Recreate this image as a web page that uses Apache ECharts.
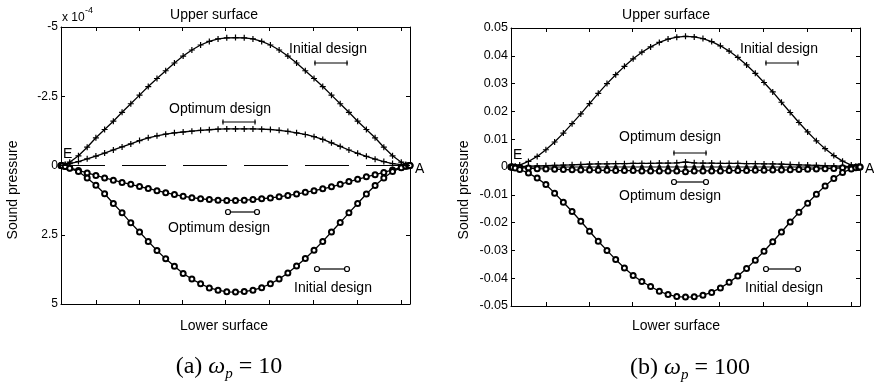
<!DOCTYPE html>
<html>
<head>
<meta charset="utf-8">
<script src="https://cdn.jsdelivr.net/npm/echarts@6/dist/echarts.min.js"></script>
<style>
  html, body { margin: 0; padding: 0; background: #fff; }
  #chart { width: 874px; height: 386px; }
</style>
</head>
<body>
<div id="chart"></div>
<script>
// chordwise positions of the surface nodes, E = 0, A = 1
const xPos = [0, 0.004, 0.012, 0.025, 0.05, 0.075, 0.1, 0.125, 0.15, 0.175, 0.2, 0.225, 0.25, 0.275, 0.3,
  0.325, 0.35, 0.375, 0.4, 0.425, 0.45, 0.475, 0.5, 0.525, 0.55, 0.575, 0.6, 0.625, 0.65, 0.675, 0.7,
  0.725, 0.75, 0.775, 0.8, 0.825, 0.85, 0.875, 0.9, 0.925, 0.95, 0.975, 0.988, 0.996, 1];

const xTickValues = [0.1, 0.223, 0.348, 0.472, 0.598, 0.722, 0.848, 0.974];

// (a) wp = 10, values in units of 1e-4
const leftUpperInitial = [0, -0.01, -0.04, -0.12, -0.35, -0.66, -1.0, -1.3, -1.6, -1.92, -2.23, -2.54, -2.85,
  -3.14, -3.42, -3.7, -3.95, -4.17, -4.35, -4.48, -4.57, -4.61, -4.62, -4.61, -4.57, -4.48, -4.35, -4.17,
  -3.95, -3.7, -3.42, -3.14, -2.85, -2.54, -2.23, -1.92, -1.6, -1.3, -1.0, -0.66, -0.35, -0.12, -0.04, -0.01, 0];
const leftUpperOptimum = [0, -0.01, -0.03, -0.07, -0.14, -0.24, -0.34, -0.45, -0.56, -0.67, -0.78, -0.9, -1.0,
  -1.07, -1.13, -1.18, -1.21, -1.24, -1.27, -1.29, -1.31, -1.32, -1.32, -1.32, -1.32, -1.31, -1.3, -1.27,
  -1.23, -1.18, -1.12, -1.04, -0.94, -0.82, -0.69, -0.56, -0.44, -0.33, -0.23, -0.14, -0.07, -0.03, -0.01, 0, 0];
const leftLowerOptimum = [0, 0.01, 0.04, 0.09, 0.18, 0.27, 0.36, 0.45, 0.53, 0.61, 0.68, 0.76, 0.83, 0.91,
  0.98, 1.05, 1.11, 1.16, 1.2, 1.23, 1.25, 1.26, 1.26, 1.25, 1.23, 1.2, 1.17, 1.13, 1.08, 1.03, 0.97, 0.91,
  0.84, 0.77, 0.68, 0.58, 0.5, 0.41, 0.33, 0.25, 0.16, 0.07, 0.03, 0.01, 0];
const leftLowerInitial = [0, 0.01, 0.04, 0.1, 0.22, 0.45, 0.71, 1.02, 1.37, 1.71, 2.07, 2.4, 2.74, 3.07, 3.37,
  3.64, 3.9, 4.1, 4.27, 4.42, 4.5, 4.56, 4.57, 4.55, 4.5, 4.41, 4.27, 4.1, 3.88, 3.63, 3.36, 3.06, 2.74, 2.4,
  2.06, 1.71, 1.37, 1.03, 0.72, 0.45, 0.22, 0.08, 0.03, 0.01, 0];

// (b) wp = 100
const rightUpperInitial = [0, 0.0001, 0.0003, 0.0007, 0.002, 0.0038, 0.0062, 0.009, 0.0122, 0.0156, 0.0191,
  0.0228, 0.0265, 0.03, 0.0332, 0.0362, 0.0389, 0.0413, 0.0432, 0.0448, 0.046, 0.0467, 0.047, 0.0468, 0.0462,
  0.0451, 0.0436, 0.0417, 0.0394, 0.0367, 0.0337, 0.0304, 0.027, 0.0233, 0.0196, 0.016, 0.0126, 0.0094,
  0.0066, 0.0041, 0.0021, 0.0007, 0.0002, 0.0001, 0];
const rightUpperOptimum = [0, 0, 0.0001, 0.0001, 0.0003, 0.0004, 0.0005, 0.0006, 0.0007, 0.0008, 0.0009,
  0.001, 0.0011, 0.0011, 0.0012, 0.0012, 0.0013, 0.0013, 0.0013, 0.0014, 0.0014, 0.0015, 0.0018, 0.0015,
  0.0014, 0.0014, 0.0013, 0.0013, 0.0013, 0.0012, 0.0012, 0.0011, 0.0011, 0.001, 0.0009, 0.0008, 0.0007,
  0.0006, 0.0005, 0.0004, 0.0003, 0.0001, 0.0001, 0, 0];
const rightLowerOptimum = [0, 0, -0.0001, -0.0002, -0.0004, -0.0006, -0.0007, -0.0008, -0.0009, -0.001,
  -0.0011, -0.0011, -0.0012, -0.0012, -0.0013, -0.0013, -0.0013, -0.0014, -0.0014, -0.0014, -0.0014, -0.0014,
  -0.0017, -0.0014, -0.0014, -0.0014, -0.0014, -0.0013, -0.0013, -0.0013, -0.0012, -0.0012, -0.0011, -0.0011,
  -0.001, -0.0009, -0.0008, -0.0007, -0.0006, -0.0005, -0.0003, -0.0002, -0.0001, 0, 0];
const rightLowerInitial = [0, -0.0001, -0.0004, -0.0009, -0.0022, -0.004, -0.0063, -0.0094, -0.0127, -0.016,
  -0.0195, -0.0231, -0.0267, -0.03, -0.0333, -0.0363, -0.039, -0.0412, -0.043, -0.0447, -0.0459, -0.0466,
  -0.0468, -0.0467, -0.0461, -0.0451, -0.0435, -0.0415, -0.0392, -0.0365, -0.0335, -0.0303, -0.0269, -0.0234,
  -0.0198, -0.0163, -0.013, -0.0098, -0.0068, -0.0041, -0.002, -0.0007, -0.0003, -0.0001, 0];
const rightZeroRef = [0, 0, 0, 0, 0, 0, 0, 0, 0, 0, 0, 0, 0, 0, 0, 0, 0, 0, 0, 0, 0, 0, 0, 0, 0, 0, 0, 0, 0,
  0, 0, 0, 0, 0, 0, 0, 0, 0, 0, 0, 0, 0, 0, 0, 0];

const SANS = '"Liberation Sans", Arial, sans-serif';
const SERIF = '"Liberation Serif", "Times New Roman", serif';
const PLUS = 'path://M4,0H6V4H10V6H6V10H4V6H0V4H4Z';

const chart = echarts.init(document.getElementById('chart'), null, { renderer: 'canvas' });

const blackLine = { show: true, onZero: false, lineStyle: { color: '#000', width: 1 } };

function xAxisFor(gridIndex, position) {
  return {
    type: 'value', gridIndex, position, min: 0, max: 1,
    axisLine: blackLine,
    axisTick: { show: true, inside: true, length: 4, customValues: xTickValues, lineStyle: { color: '#000' } },
    axisLabel: { show: false },
    splitLine: { show: false },
  };
}

function yAxisFor(gridIndex, position, range, labels) {
  return {
    type: 'value', gridIndex, position,
    min: range.min, max: range.max, interval: range.interval, inverse: !!range.inverse,
    axisLine: blackLine,
    axisTick: { show: true, inside: true, length: 4, lineStyle: { color: '#000' } },
    axisLabel: labels
      ? { show: true, color: '#000', fontFamily: SANS, fontSize: range.fontSize, margin: 3, formatter: range.formatter }
      : { show: false },
    splitLine: { show: false },
  };
}

function curve(values, xi, yi, marker) {
  const plus = marker === 'plus';
  return {
    type: 'line', xAxisIndex: xi, yAxisIndex: yi,
    data: xPos.map((x, i) => [x, values[i]]),
    symbol: plus ? PLUS : 'emptyCircle',
    symbolSize: plus ? 6 : 5,
    showSymbol: true,
    lineStyle: { color: '#000', width: 1.3 },
    itemStyle: { color: '#000', borderColor: '#000', borderWidth: plus ? 0 : 1 },
    silent: true, animation: false, z: 3,
  };
}

function txt(text, x, y, extra) {
  return {
    type: 'text', x, y, silent: true, z: 10,
    style: Object.assign({ text, fill: '#000', fontFamily: SANS, fontSize: 14, align: 'center', verticalAlign: 'middle' }, extra || {}),
  };
}

function keyPlus(x1, x2, y) {
  const ln = (a, b, c, d) => ({ type: 'line', silent: true, z: 10, shape: { x1: a, y1: b, x2: c, y2: d }, style: { stroke: '#000', lineWidth: 1.2 } });
  return [ln(x1 - 1, y, x2 + 1, y), ln(x1, y - 2.5, x1, y + 2.5), ln(x2, y - 2.5, x2, y + 2.5)];
}

function keyCircle(x1, x2, y) {
  const c = (cx) => ({ type: 'circle', silent: true, z: 11, shape: { cx, cy: y, r: 2.5 }, style: { fill: '#fff', stroke: '#000', lineWidth: 1.2 } });
  return [{ type: 'line', silent: true, z: 10, shape: { x1, y1: y, x2, y2: y }, style: { stroke: '#000', lineWidth: 1.2 } }, c(x1), c(x2)];
}

const captionRich = {
  t: { fontFamily: SERIF, fontSize: 24, lineHeight: 30, fill: '#000' },
  w: { fontFamily: SERIF, fontStyle: 'italic', fontSize: 24, lineHeight: 30, fill: '#000' },
  s: { fontFamily: SERIF, fontStyle: 'italic', fontSize: 15, lineHeight: 15, verticalAlign: 'bottom', fill: '#000' },
};

const option = {
  backgroundColor: '#fff',
  animation: false,
  grid: [
    { left: 61, top: 27, width: 349, height: 277 },
    { left: 511, top: 28, width: 349, height: 278 },
  ],
  xAxis: [xAxisFor(0, 'bottom'), xAxisFor(0, 'top'), xAxisFor(1, 'bottom'), xAxisFor(1, 'top')],
  yAxis: [
    yAxisFor(0, 'left', { min: -5, max: 5, interval: 2.5, inverse: true, fontSize: 12 }, true),
    yAxisFor(0, 'right', { min: -5, max: 5, interval: 2.5, inverse: true }, false),
    yAxisFor(1, 'left', {
      min: -0.05, max: 0.05, interval: 0.01, fontSize: 12.5,
      formatter: (v) => (Math.abs(v) < 1e-9 ? '0' : v.toFixed(2)),
    }, true),
    yAxisFor(1, 'right', { min: -0.05, max: 0.05, interval: 0.01 }, false),
  ],
  series: [
    Object.assign(curve(leftUpperInitial, 0, 0, 'plus'), {
      markLine: {
        silent: true, symbol: 'none', label: { show: false },
        lineStyle: { color: '#000', width: 1.2, type: [44, 17] },
        data: [{ yAxis: 0 }],
      },
    }),
    curve(leftUpperOptimum, 0, 0, 'plus'),
    curve(leftLowerOptimum, 0, 0, 'circle'),
    curve(leftLowerInitial, 0, 0, 'circle'),
    {
      type: 'line', xAxisIndex: 2, yAxisIndex: 2,
      data: xPos.map((x, i) => [x, rightZeroRef[i]]),
      symbol: 'circle', symbolSize: 4,
      lineStyle: { color: '#000', width: 1.2 },
      itemStyle: { color: '#000' },
      silent: true, animation: false, z: 2,
    },
    curve(rightUpperInitial, 2, 2, 'plus'),
    curve(rightUpperOptimum, 2, 2, 'plus'),
    curve(rightLowerOptimum, 2, 2, 'circle'),
    curve(rightLowerInitial, 2, 2, 'circle'),
  ],
  graphic: [
    // (a)
    txt('Upper surface', 214, 15),
    txt('Lower surface', 224, 326),
    txt('x 10', 62, 18, { align: 'left', fontSize: 12 }),
    txt('-4', 85, 11, { align: 'left', fontSize: 9 }),
    txt('Sound pressure', 13, 190, {}),
    txt('E', 63, 154, { align: 'left' }),
    txt('A', 415, 169, { align: 'left' }),
    txt('Initial design', 328, 49),
    ...keyPlus(315, 347, 63),
    txt('Optimum design', 220, 109),
    ...keyPlus(223, 255, 122),
    ...keyCircle(228, 257, 212),
    txt('Optimum design', 219, 228),
    ...keyCircle(317, 347, 269),
    txt('Initial design', 333, 288),
    // (b)
    txt('Upper surface', 666, 15),
    txt('Lower surface', 676, 326),
    txt('Sound pressure', 464, 190, {}),
    txt('E', 513, 155, { align: 'left' }),
    txt('A', 865, 169, { align: 'left' }),
    txt('Initial design', 779, 49),
    ...keyPlus(766, 798, 63),
    txt('Optimum design', 670, 137),
    ...keyPlus(674, 706, 153),
    ...keyCircle(674, 706, 182),
    txt('Optimum design', 670, 196),
    ...keyCircle(766, 798, 269),
    txt('Initial design', 784, 288),
    // captions
    {
      type: 'text', x: 229, y: 367, silent: true,
      style: { text: '{t|(a) }{w|ω}{s|p}{t| = 10}', align: 'center', verticalAlign: 'middle', rich: captionRich },
    },
    {
      type: 'text', x: 690, y: 368, silent: true,
      style: { text: '{t|(b) }{w|ω}{s|p}{t| = 100}', align: 'center', verticalAlign: 'middle', rich: captionRich },
    },
  ],
};

// rotate the y-axis titles
option.graphic.forEach((g) => {
  if (g.style && g.style.text === 'Sound pressure') g.rotation = Math.PI / 2;
});

chart.setOption(option);
</script>
</body>
</html>
